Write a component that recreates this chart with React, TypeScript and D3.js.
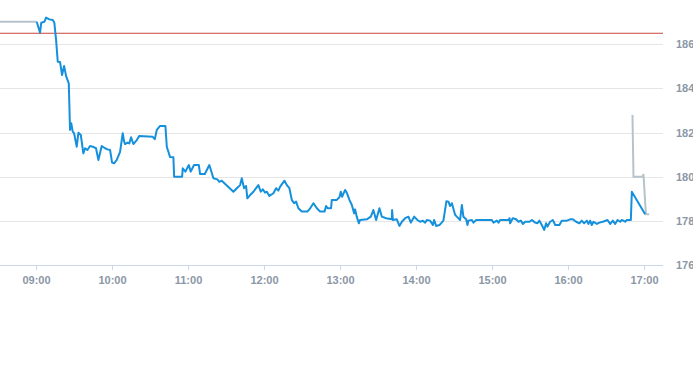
import React from "react";
import * as d3 from "d3";

// minutes after midnight
const mainTimes = [
  540.3, 542.9, 543.9, 546.3, 547.7, 550.3, 553.0, 554.2, 555.6, 556.9, 558.7, 560.3, 561.9, 563.5, 565.6,
  566.6, 567.6, 568.7, 569.8, 571.9, 573.2, 575.1, 577.1, 578.5, 580.3, 582.4, 584.5, 587.1, 589.0, 591.6,
  594.3, 596.1, 598.2, 599.8, 601.4, 603.5, 606.1, 608.2, 609.3, 610.1, 611.9, 613.4, 614.8, 616.6, 619.3,
  621.3, 631.9, 633.5, 635.1, 637.7, 641.9, 643.0, 645.6, 648.2, 648.8, 655.1, 655.6, 657.7, 660.4, 661.9,
  664.5, 668.3, 669.3, 673.0, 676.6, 679.8, 682.9, 684.5, 686.4, 695.6, 698.3, 700.9, 702.2, 704.0, 705.6,
  706.6, 708.8, 711.4, 715.3, 717.2, 718.8, 720.6, 722.0, 724.0, 727.2, 729.3, 731.1, 732.5, 735.9, 737.8,
  739.8, 741.7, 743.5, 745.1, 746.9, 749.6, 754.0, 756.2, 758.8, 761.5, 764.1, 767.5, 768.8, 770.1, 772.7,
  773.3, 777.2, 779.3, 780.4, 781.4, 783.8, 785.1, 787.2, 789.1, 790.9, 791.7, 793.0, 794.6, 795.6, 800.9,
  804.1, 806.1, 808.3, 810.9, 812.8, 816.2, 820.7, 820.9, 821.5, 824.6, 826.7, 828.6, 831.2, 833.8, 835.7,
  838.3, 840.9, 843.0, 845.2, 847.0, 848.3, 850.9, 853.1, 854.1, 855.7, 858.3, 861.4, 863.8, 865.4, 866.7,
  868.1, 870.7, 872.0, 874.6, 876.0, 877.2, 879.4, 880.4, 881.2, 883.9, 885.2, 887.3, 899.7, 900.9, 903.6,
  904.9, 906.2, 912.8, 913.6, 914.1, 916.2, 918.8, 920.7, 922.6, 924.2, 926.0, 929.4, 931.3, 933.9, 935.7,
  937.2, 939.1, 941.0, 942.5, 943.6, 945.7, 947.8, 949.7, 953.0, 954.9, 958.9, 961.5, 963.6, 966.2, 968.8,
  970.7, 972.5, 974.7, 975.9, 977.3, 978.6, 979.9, 982.6, 984.6, 987.3, 991.0, 993.1, 995.2, 997.0, 998.9,
  1001.0, 1002.3, 1004.9, 1006.3, 1009.4, 1010.2, 1020.7,
];
const mainValues = [
  187.02, 186.53, 186.98, 187.02, 187.21, 187.13, 187.10, 186.98, 186.19, 185.21, 185.20, 184.61, 185.02, 184.56, 184.23,
  182.12, 182.42, 182.04, 181.97, 181.36, 181.99, 181.89, 181.06, 181.29, 181.21, 181.39, 181.36, 181.29, 180.76, 181.39,
  181.29, 181.24, 181.21, 180.64, 180.61, 180.76, 181.13, 181.97, 181.59, 181.48, 181.54, 181.51, 181.79, 181.48, 181.66,
  181.85, 181.81, 181.70, 182.12, 182.30, 182.30, 181.36, 180.89, 180.88, 180.00, 180.00, 180.38, 180.23, 180.53, 180.23,
  180.53, 180.53, 180.12, 180.12, 180.53, 179.93, 179.88, 179.77, 179.82, 179.32, 179.48, 179.62, 179.93, 179.48, 179.58,
  179.02, 179.17, 179.32, 179.62, 179.32, 179.43, 179.28, 179.32, 179.13, 179.25, 179.48, 179.37, 179.55, 179.82, 179.62,
  179.48, 178.95, 178.80, 178.87, 178.57, 178.42, 178.42, 178.57, 178.80, 178.57, 178.42, 178.42, 178.67, 178.57, 178.57,
  178.95, 178.95, 179.07, 179.32, 179.09, 179.40, 179.28, 178.95, 178.72, 178.34, 178.52, 178.19, 177.89, 178.04, 178.07,
  178.19, 178.49, 178.04, 178.57, 178.19, 178.12, 178.07, 178.49, 178.04, 178.07, 177.77, 177.96, 178.12, 178.19, 177.92,
  178.19, 178.04, 177.96, 178.01, 177.92, 178.04, 178.01, 177.81, 178.04, 177.77, 177.81, 178.01, 178.89, 178.87, 178.67,
  178.80, 178.27, 178.19, 178.04, 178.72, 178.19, 178.07, 177.81, 178.01, 178.04, 177.92, 178.04, 178.04, 177.92, 178.01,
  177.92, 178.04, 178.04, 178.12, 177.89, 178.12, 178.07, 177.96, 178.01, 177.86, 177.96, 177.96, 178.04, 177.92, 177.89,
  178.01, 177.81, 177.59, 177.89, 177.74, 177.96, 178.04, 177.81, 177.81, 178.01, 178.01, 178.07, 178.07, 177.96, 177.89,
  178.01, 177.89, 178.01, 177.86, 178.01, 177.81, 177.96, 177.86, 177.92, 177.96, 178.04, 177.86, 178.01, 177.86, 178.04,
  177.96, 178.04, 177.96, 178.04, 178.04, 179.32, 178.30,
];

const preTimes = [511.3, 540.3];
const preValues = [187.02, 187.02];

const postTimes = [1010.7, 1011.5, 1018.6, 1019.4, 1021.3, 1023.9];
const postValues = [182.8, 180.0, 180.0, 180.12, 178.3, 178.3];

const referenceValue = 186.5;
const yTicks = [176, 178, 180, 182, 184, 186];
const xTickLabels = ["09:00", "10:00", "11:00", "12:00", "13:00", "14:00", "15:00", "16:00", "17:00"];
const xDomain = [511.3, 1034.8];
const yDomain = [176, 186];

const W = 693;
const H = 365;
const plotLeft = 0;
const plotRight = 663;
const plotTop = 44.3;
const plotBottom = 265;

export default function App() {
  const x = d3.scaleLinear().domain(xDomain).range([plotLeft, plotRight]);
  const y = d3.scaleLinear().domain(yDomain).range([plotBottom, plotTop]);
  const line = d3
    .line<[number, number]>()
    .x((d) => x(d[0]))
    .y((d) => y(d[1]));

  const zip = (t: number[], v: number[]) => t.map((tt, i) => [tt, v[i]] as [number, number]);
  const toMin = (s: string) => {
    const [h, m] = s.split(":").map(Number);
    return h * 60 + m;
  };
  const font = "'Liberation Sans', Arial, sans-serif";

  return (
    <svg
      width={W}
      height={H}
      style={{ position: "absolute", left: 0, top: 0, background: "#fff" }}
    >
      {yTicks.slice(1).map((t) => (
        <line
          key={t}
          x1={plotLeft}
          x2={plotRight}
          y1={Math.round(y(t)) + 0.5}
          y2={Math.round(y(t)) + 0.5}
          stroke="#e6e6e6"
          strokeWidth={1}
        />
      ))}
      <line
        x1={plotLeft}
        x2={plotRight}
        y1={plotBottom + 0.5}
        y2={plotBottom + 0.5}
        stroke="#ccd6eb"
        strokeWidth={1}
      />
      {xTickLabels.map((lab) => {
        const xx = Math.round(x(toMin(lab))) + 0.5;
        return (
          <g key={lab}>
            <line x1={xx} x2={xx} y1={plotBottom} y2={plotBottom + 5} stroke="#ccd6eb" />
            <text
              x={xx}
              y={284}
              textAnchor="middle"
              fontFamily={font}
              fontSize={11}
              fontWeight="bold"
              fill="#8b97a6"
            >
              {lab}
            </text>
          </g>
        );
      })}
      {yTicks.map((t) => (
        <text
          key={t}
          x={676}
          y={y(t) + 4}
          textAnchor="start"
          fontFamily={font}
          fontSize={11}
          fontWeight="bold"
          fill="#8b97a6"
        >
          {t}
        </text>
      ))}
      <line
        x1={plotLeft}
        x2={plotRight}
        y1={y(referenceValue)}
        y2={y(referenceValue)}
        stroke="#c9463d"
        strokeWidth={1}
      />
      <path d={line(zip(preTimes, preValues)) || ""} fill="none" stroke="#b7c3cb" strokeWidth={2} />
      <path d={line(zip(postTimes, postValues)) || ""} fill="none" stroke="#b7c3cb" strokeWidth={2} />
      <path
        d={line(zip(mainTimes, mainValues)) || ""}
        fill="none"
        stroke="#1590dc"
        strokeWidth={2}
        strokeLinejoin="round"
      />
    </svg>
  );
}
